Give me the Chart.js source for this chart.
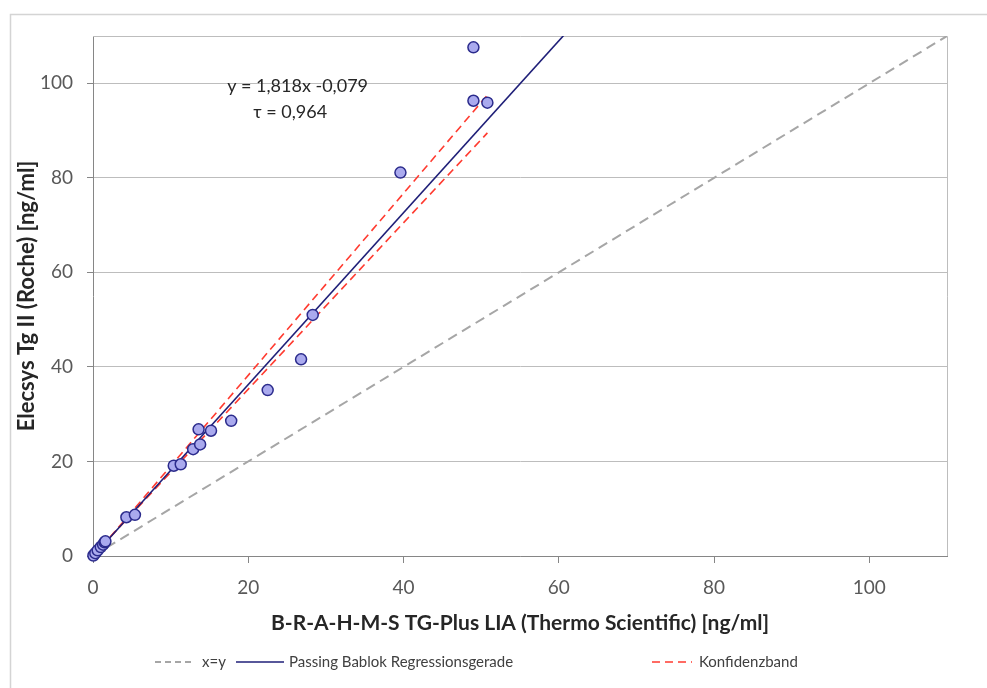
<!DOCTYPE html>
<html>
<head>
<meta charset="utf-8">
<script src="https://cdn.jsdelivr.net/npm/chart.js@4.4.1/dist/chart.umd.min.js"></script>
<style>
  html, body { margin: 0; padding: 0; background: #ffffff; }
  canvas { display: block; }
</style>
</head>
<body>
<canvas id="c" width="987" height="688"></canvas>
<script>
// ---- data ----
const pointsX = [0.05, 0.3, 0.6, 1.0, 1.3, 1.5, 1.6, 4.3, 5.4, 10.4, 11.3, 12.9, 13.6, 13.8, 15.2, 17.8, 22.5, 26.8, 28.3, 39.6, 49.0, 49.0, 50.8];
const pointsY = [0.1, 0.6, 1.2, 1.9, 2.4, 2.9, 3.1, 8.2, 8.7, 19.1, 19.4, 22.6, 26.8, 23.6, 26.5, 28.6, 35.1, 41.6, 51.0, 81.1, 107.6, 96.3, 95.9];

const identityX = [0, 110];
const identityY = [0, 110];

const regressionX = [0, 61];
const regressionY = [-0.079, 110.8];

const bandUpperX = [0, 50.8];
const bandUpperY = [-0.25, 97.5];
const bandLowerX = [0, 50.8];
const bandLowerY = [0.1, 89.5];

const tickValues = [0, 20, 40, 60, 80, 100];
const axisMin = 0;
const axisMax = 110;

const xTitle = 'B-R-A-H-M-S TG-Plus LIA (Thermo Scientific) [ng/ml]';
const yTitle = 'Elecsys Tg II (Roche) [ng/ml]';
const equationLines = ['y = 1,818x -0,079', '\u03C4 = 0,964'];
const equationAnchorsX = [26.35, 25.4];
const equationAnchorsY = [99.4, 93.8];
const legendLabels = ['x=y', 'Passing Bablok Regressionsgerade', 'Konfidenzband'];

// ---- helpers ----
const toXY = (xs, ys) => xs.map((v, i) => ({ x: v, y: ys[i] }));

const FONT = 'Lato, "Open Sans", sans-serif';
const COL_POINT_FILL = '#aaaaee';
const COL_POINT_BORDER = '#2b2b8c';
const COL_IDENT = '#a6a6a6';
const COL_REG = '#1f1f78';
const COL_BAND = '#ff3b30';

const datasets = [
  {
    label: 'Messwerte',
    data: toXY(pointsX, pointsY),
    showLine: false,
    pointRadius: 5.5,
    pointHoverRadius: 5.5,
    pointBackgroundColor: COL_POINT_FILL,
    pointBorderColor: COL_POINT_BORDER,
    pointBorderWidth: 1.5,
    clip: 10
  },
  {
    label: legendLabels[1],
    data: toXY(regressionX, regressionY),
    showLine: true,
    borderColor: COL_REG,
    borderWidth: 1.6,
    pointRadius: 0
  },
  {
    label: legendLabels[2],
    data: toXY(bandUpperX, bandUpperY),
    showLine: true,
    borderColor: COL_BAND,
    borderWidth: 1.6,
    borderDash: [8, 5],
    pointRadius: 0
  },
  {
    label: legendLabels[2] + ' (unten)',
    data: toXY(bandLowerX, bandLowerY),
    showLine: true,
    borderColor: COL_BAND,
    borderWidth: 1.6,
    borderDash: [8, 5],
    pointRadius: 0
  },
  {
    label: legendLabels[0],
    data: toXY(identityX, identityY),
    showLine: true,
    borderColor: COL_IDENT,
    borderWidth: 2,
    borderDash: [10, 6],
    pointRadius: 0
  }
];

const legendItems = [
  { text: legendLabels[0], color: COL_IDENT, dash: [6, 4], width: 2, x0: 155, x1: 195, tx: 202 },
  { text: legendLabels[1], color: COL_REG, dash: [], width: 1.6, x0: 236, x1: 284, tx: 289 },
  { text: legendLabels[2], color: COL_BAND, dash: [8, 5], width: 1.6, x0: 652, x1: 692, tx: 699 }
];

const decor = {
  id: 'decor',
  beforeDraw(chart) {
    const ctx = chart.ctx;
    ctx.save();
    ctx.fillStyle = '#ffffff';
    ctx.fillRect(0, 0, chart.width, chart.height);
    ctx.strokeStyle = '#d4d4d4';
    ctx.lineWidth = 1.5;
    ctx.strokeRect(10.5, 14.5, chart.width + 20, chart.height + 20);
    ctx.restore();
  },
  beforeDatasetsDraw(chart) {
    const { ctx, chartArea: a } = chart;
    ctx.save();
    ctx.strokeStyle = '#bdbdbd';
    ctx.lineWidth = 1;
    ctx.beginPath();
    ctx.moveTo(a.left, a.top + 0.5);
    ctx.lineTo(a.right + 0.5, a.top + 0.5);
    ctx.lineTo(a.right + 0.5, a.bottom);
    ctx.stroke();
    ctx.restore();
  },
  afterDraw(chart) {
    const { ctx, scales } = chart;
    ctx.save();
    // regression equation
    ctx.fillStyle = '#262626';
    ctx.font = '18px ' + FONT;
    ctx.textAlign = 'center';
    ctx.textBaseline = 'middle';
    equationLines.forEach((t, i) => {
      ctx.fillText(t, scales.x.getPixelForValue(equationAnchorsX[i]), scales.y.getPixelForValue(equationAnchorsY[i]));
    });
    // legend
    const ly = 662;
    ctx.textAlign = 'left';
    ctx.font = '15px ' + FONT;
    legendItems.forEach(it => {
      ctx.beginPath();
      ctx.strokeStyle = it.color;
      ctx.lineWidth = it.width;
      ctx.setLineDash(it.dash);
      ctx.moveTo(it.x0, ly);
      ctx.lineTo(it.x1, ly);
      ctx.stroke();
      ctx.setLineDash([]);
      ctx.fillStyle = '#404040';
      ctx.fillText(it.text, it.tx, ly);
    });
    ctx.restore();
  }
};

const tickFont = { family: FONT, size: 19 };

new Chart(document.getElementById('c'), {
  type: 'scatter',
  data: { datasets },
  plugins: [decor],
  options: {
    responsive: false,
    animation: false,
    events: [],
    layout: { padding: { top: 36, right: 40, left: 0, bottom: 0 } },
    plugins: {
      legend: { display: false },
      tooltip: { enabled: false }
    },
    scales: {
      x: {
        type: 'linear',
        position: 'bottom',
        min: axisMin,
        max: axisMax,
        afterFit(s) { s.height = 132; },
        afterBuildTicks(s) { s.ticks = tickValues.map(v => ({ value: v })); },
        ticks: { stepSize: 20, includeBounds: false, color: '#595959', font: tickFont, padding: 13, maxRotation: 0 },
        grid: { drawOnChartArea: false, drawTicks: true, tickLength: 7, color: '#868686', tickColor: '#868686' },
        border: { display: true, color: '#868686', width: 1 },
        title: { display: true, text: xTitle, color: '#262626', font: { family: FONT, size: 21, weight: 'bold' }, padding: { top: 0, bottom: 52 } }
      },
      y: {
        type: 'linear',
        position: 'left',
        min: axisMin,
        max: axisMax,
        afterFit(s) { s.width = 93; },
        afterBuildTicks(s) { s.ticks = tickValues.map(v => ({ value: v })); },
        ticks: { stepSize: 20, includeBounds: false, color: '#595959', font: tickFont, padding: 14 },
        grid: { drawOnChartArea: true, drawTicks: true, tickLength: 6, color: '#bdbdbd', tickColor: '#868686' },
        border: { display: true, color: '#868686', width: 1 },
        title: { display: true, text: yTitle, color: '#262626', font: { family: FONT, size: 22, weight: 'bold' }, padding: { top: 14, bottom: 0 } }
      }
    }
  }
});
</script>
</body>
</html>
